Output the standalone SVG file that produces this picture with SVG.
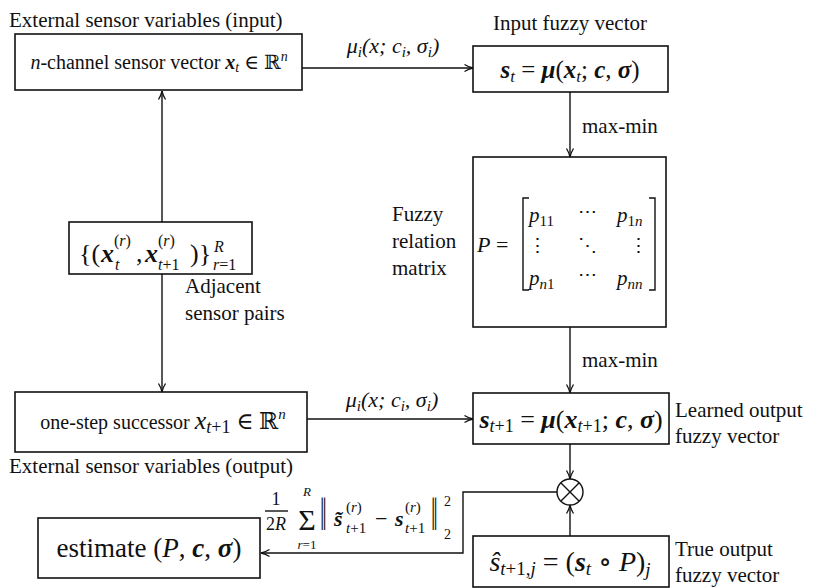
<svg xmlns="http://www.w3.org/2000/svg" width="814" height="588" viewBox="0 0 814 588" font-family="'Liberation Serif', Tinos, 'Times New Roman', 'DejaVu Serif', serif">
<style>
text{font-family:'Liberation Serif',Tinos,'Times New Roman','DejaVu Serif',serif;fill:#111}
.box{fill:#fff;stroke:#111;stroke-width:1.6}
.ln{fill:none;stroke:#111;stroke-width:1.4}
.i{font-style:italic}
.bi{font-style:italic;font-weight:bold}
</style>
<defs>
<marker id="arr" viewBox="0 0 10 10" refX="9.5" refY="5" markerWidth="10" markerHeight="10" markerUnits="userSpaceOnUse" orient="auto">
<path d="M1,1.5 Q5,4 9.5,5 Q5,6 1,8.5" fill="none" stroke="#111" stroke-width="1.3"/>
</marker>
</defs>

<g id="connectors">
<path class="ln" d="M302,68 H473" marker-end="url(#arr)"/>
<path class="ln" d="M570,92 V157" marker-end="url(#arr)"/>
<path class="ln" d="M162,222 V91" marker-end="url(#arr)"/>
<path class="ln" d="M162,274 V392" marker-end="url(#arr)"/>
<path class="ln" d="M307,419 H473" marker-end="url(#arr)"/>
<path class="ln" d="M570,327 V393" marker-end="url(#arr)"/>
<path class="ln" d="M570,444 V479" marker-end="url(#arr)"/>
<path class="ln" d="M570,536 V505" marker-end="url(#arr)"/>
<path class="ln" d="M557,492 H463 V553 H261" marker-end="url(#arr)"/>
<text x="393" y="53" font-size="22" text-anchor="middle" class="i">μ<tspan font-size="15" dy="4">i</tspan><tspan dy="-4">(x; c</tspan><tspan font-size="15" dy="4">i</tspan><tspan dy="-4">, σ</tspan><tspan font-size="15" dy="4">i</tspan><tspan dy="-4">)</tspan></text>
<text x="392" y="407" font-size="22" text-anchor="middle" class="i">μ<tspan font-size="15" dy="4">i</tspan><tspan dy="-4">(x; c</tspan><tspan font-size="15" dy="4">i</tspan><tspan dy="-4">, σ</tspan><tspan font-size="15" dy="4">i</tspan><tspan dy="-4">)</tspan></text>
<text x="582" y="133" font-size="21">max-min</text>
<text x="582" y="367" font-size="21">max-min</text>
</g>

<g id="title-input"><text x="9" y="27" font-size="21">External sensor variables (input)</text></g>

<g id="sensor-vector">
<rect class="box" x="15" y="34" width="287" height="56"/>
<text x="159" y="69" font-size="20" text-anchor="middle"><tspan class="i">n</tspan>-channel sensor vector <tspan class="bi">x</tspan><tspan class="i" font-size="14" dy="3">t</tspan><tspan dy="-3"> ∈ ℝ</tspan><tspan class="i" font-size="14" dy="-8">n</tspan></text>
</g>

<g id="input-fuzzy">
<text x="570" y="30" font-size="21" text-anchor="middle">Input fuzzy vector</text>
<rect class="box" x="473" y="46" width="195" height="46"/>
<text x="570" y="78" font-size="25" text-anchor="middle"><tspan class="bi">s</tspan><tspan class="i" font-size="17" dy="4">t</tspan><tspan dy="-4"> = </tspan><tspan class="bi">μ</tspan>(<tspan class="bi">x</tspan><tspan class="i" font-size="17" dy="4">t</tspan><tspan dy="-4">; </tspan><tspan class="bi">c</tspan>, <tspan class="bi">σ</tspan>)</text>
</g>

<g id="relation-matrix">
<text font-size="21"><tspan x="392" y="221">Fuzzy</tspan><tspan x="392" y="248">relation</tspan><tspan x="392" y="275">matrix</tspan></text>
<rect class="box" x="473" y="157" width="193" height="170"/>
<text x="477" y="252" font-size="22"><tspan class="i">P</tspan> =</text>
<path class="ln" d="M529,198 H523 V290 H529 M649,198 H655 V290 H649" stroke-width="1.2"/>
<text font-size="21" class="i">
<tspan x="529" y="222">p</tspan><tspan font-size="15" font-style="normal" dy="4">11</tspan>
<tspan x="617" y="222">p</tspan><tspan font-size="15" dy="4"><tspan font-style="normal">1</tspan>n</tspan>
<tspan x="529" y="285">p</tspan><tspan font-size="15" dy="4">n<tspan font-style="normal">1</tspan></tspan>
<tspan x="617" y="285">p</tspan><tspan font-size="15" dy="4">nn</tspan>
</text>
<text font-size="19" text-anchor="middle"><tspan x="587" y="218">⋯</tspan><tspan x="587" y="281">⋯</tspan><tspan x="537" y="252">⋮</tspan><tspan x="587" y="252">⋱</tspan><tspan x="638" y="252">⋮</tspan></text>
</g>

<g id="sensor-pairs">
<rect class="box" x="69" y="222" width="183" height="52"/>
<text font-size="26"><tspan x="79" y="262">{(</tspan><tspan class="bi" x="101" y="262">x</tspan><tspan x="136" y="262">,</tspan><tspan class="bi" x="145" y="262">x</tspan><tspan x="190" y="262">)}</tspan></text>
<text font-size="16"><tspan x="114" y="246">(<tspan class="i">r</tspan>)</tspan><tspan class="i" x="115" y="270">t</tspan><tspan x="158" y="246">(<tspan class="i">r</tspan>)</tspan><tspan x="158" y="270"><tspan class="i">t</tspan>+1</tspan><tspan class="i" x="214" y="252">R</tspan><tspan x="213" y="270"><tspan class="i">r</tspan>=1</tspan></text>
<text font-size="21"><tspan x="185" y="293">Adjacent</tspan><tspan x="185" y="320">sensor pairs</tspan></text>
</g>

<g id="successor">
<rect class="box" x="15" y="392" width="292" height="60"/>
<text x="163" y="429" font-size="20" text-anchor="middle">one-step successor  <tspan class="i" font-size="26">x</tspan><tspan class="i" font-size="18" dy="4">t</tspan><tspan font-size="18">+1</tspan><tspan dy="-4" font-size="23"> ∈ ℝ</tspan><tspan class="i" font-size="15" dy="-10">n</tspan></text>
<text x="9" y="473" font-size="21">External sensor variables (output)</text>
</g>

<g id="learned-output">
<rect class="box" x="473" y="393" width="196" height="51"/>
<text x="571" y="428" font-size="26" text-anchor="middle"><tspan class="bi">s</tspan><tspan class="i" font-size="18" dy="4">t</tspan><tspan font-size="18">+1</tspan><tspan dy="-4"> = </tspan><tspan class="bi">μ</tspan>(<tspan class="bi">x</tspan><tspan class="i" font-size="18" dy="4">t</tspan><tspan font-size="18">+1</tspan><tspan dy="-4">; </tspan><tspan class="bi">c</tspan>, <tspan class="bi">σ</tspan>)</text>
<text font-size="21"><tspan x="675" y="417">Learned output</tspan><tspan x="675" y="443">fuzzy vector</tspan></text>
</g>

<g id="combine">
<circle cx="570" cy="492" r="13" fill="#fff" stroke="#111" stroke-width="1.4"/>
<path class="ln" d="M561,483 L579,501 M579,483 L561,501"/>
</g>

<g id="true-output">
<rect class="box" x="473" y="536" width="196" height="51"/>
<text x="570" y="571" font-size="28" text-anchor="middle"><tspan class="i">ŝ</tspan><tspan font-size="19" dy="4"><tspan class="i">t</tspan>+1,<tspan class="i">j</tspan></tspan><tspan dy="-4"> = (</tspan><tspan class="bi">s</tspan><tspan class="i" font-size="19" dy="4">t</tspan><tspan dy="-4"> ∘ </tspan><tspan class="i">P</tspan>)<tspan class="i" font-size="19" dy="5">j</tspan></text>
<text font-size="21"><tspan x="675" y="556">True output</tspan><tspan x="675" y="582">fuzzy vector</tspan></text>
</g>

<g id="estimate">
<rect class="box" x="38" y="518" width="222" height="60"/>
<text x="149" y="557" font-size="27" text-anchor="middle">estimate (<tspan class="i">P</tspan>, <tspan class="bi">c</tspan>, <tspan class="bi">σ</tspan>)</text>
</g>

<g id="loss">
<text x="276" y="505" font-size="18" text-anchor="middle">1</text>
<path class="ln" d="M265,511 H288" stroke-width="1"/>
<text x="276" y="530" font-size="18" text-anchor="middle">2<tspan class="i">R</tspan></text>
<text x="307" y="530" font-size="30" text-anchor="middle">Σ</text>
<text x="307" y="496" font-size="13" text-anchor="middle" class="i">R</text>
<text x="307" y="549" font-size="13" text-anchor="middle"><tspan class="i">r</tspan>=1</text>
<text transform="translate(320,530) scale(1,1.9)" font-size="24">‖</text>
<text x="334" y="526" font-size="22" class="bi">s̃</text>
<text font-size="15"><tspan x="346" y="512">(<tspan class="i">r</tspan>)</tspan><tspan x="346" y="533"><tspan class="i">t</tspan>+1</tspan></text>
<text x="375" y="526" font-size="22">−</text>
<text x="395" y="526" font-size="22" class="bi">s</text>
<text font-size="15"><tspan x="405" y="512">(<tspan class="i">r</tspan>)</tspan><tspan x="405" y="533"><tspan class="i">t</tspan>+1</tspan></text>
<text transform="translate(431,530) scale(1,1.9)" font-size="24">‖</text>
<text font-size="14"><tspan x="444" y="506">2</tspan><tspan x="444" y="539">2</tspan></text>
</g>
</svg>
